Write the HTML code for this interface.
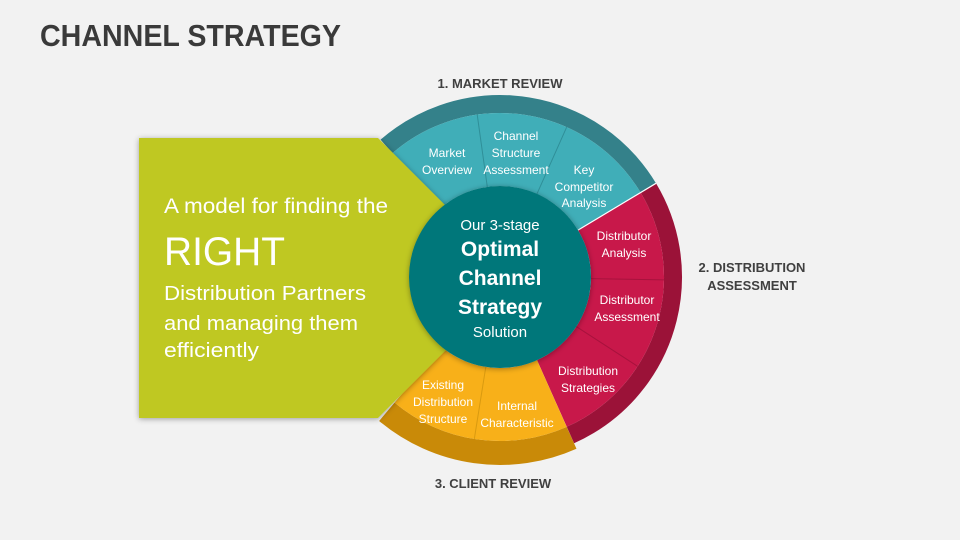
<!DOCTYPE html>
<html><head><meta charset="utf-8"><style>
html,body{margin:0;padding:0;background:#f2f2f2;}
svg{display:block;font-family:"Liberation Sans",sans-serif;}
</style></head><body>
<svg width="960" height="540" viewBox="0 0 960 540" xmlns="http://www.w3.org/2000/svg">
<defs>
<filter id="sh" x="-20%" y="-20%" width="140%" height="140%"><feDropShadow dx="0" dy="1" stdDeviation="3" flood-color="#000" flood-opacity="0.35"/></filter>
</defs>
<rect width="960" height="540" fill="#f2f2f2"/>
<text x="40" y="46" font-size="31" font-weight="bold" fill="#3a3a3a" textLength="301" lengthAdjust="spacingAndGlyphs">CHANNEL STRATEGY</text>

<g fill="none">
<circle cx="500" cy="277" r="176" stroke="#c98a08" stroke-width="24" pathLength="360" stroke-dasharray="64 296" transform="rotate(66 500 277)"/>
<circle cx="500" cy="277" r="173" stroke="#34818a" stroke-width="18" pathLength="360" stroke-dasharray="100 260" transform="rotate(-131 500 277)"/>
<circle cx="500" cy="277" r="173" stroke="#9b1238" stroke-width="18" pathLength="360" stroke-dasharray="97 263" transform="rotate(-31 500 277)"/>
<circle cx="500" cy="277" r="127.5" stroke="#40aeb8" stroke-width="73" pathLength="360" stroke-dasharray="100 260" transform="rotate(-131 500 277)"/>
<circle cx="500" cy="277" r="127.5" stroke="#c8184a" stroke-width="73" pathLength="360" stroke-dasharray="97 263" transform="rotate(-31 500 277)"/>
<circle cx="500" cy="277" r="127.5" stroke="#f8b019" stroke-width="73" pathLength="360" stroke-dasharray="64 296" transform="rotate(66 500 277)"/>
</g>
<g stroke-width="1">
<line x1="487.3" y1="186.9" x2="477.2" y2="114.6" stroke="#2f8f98"/>
<line x1="537" y1="193.8" x2="566.7" y2="127.1" stroke="#2f8f98"/>
<line x1="591" y1="278.6" x2="664" y2="279.9" stroke="#a8123d"/>
<line x1="576.3" y1="326.6" x2="637.6" y2="366.3" stroke="#a8123d"/>
<line x1="485.8" y1="366.9" x2="474.3" y2="439" stroke="#d99a10"/>
<line x1="578" y1="230.1" x2="656" y2="183.3" stroke="#ffffff" stroke-width="1.2"/>
</g>

<polygon points="139,138 378,138 518,278 378,418 139,418" fill="#bfc822" filter="url(#sh)"/>
<g fill="#ffffff">
<text x="164" y="213" font-size="21" textLength="224" lengthAdjust="spacingAndGlyphs">A model for finding the</text>
<text x="164" y="265" font-size="40" textLength="121" lengthAdjust="spacingAndGlyphs">RIGHT</text>
<text x="164" y="300" font-size="20" textLength="202" lengthAdjust="spacingAndGlyphs">Distribution Partners</text>
<text x="164" y="330" font-size="20" textLength="194" lengthAdjust="spacingAndGlyphs">and managing them</text>
<text x="164" y="357" font-size="20" textLength="95" lengthAdjust="spacingAndGlyphs">efficiently</text>
</g>

<circle cx="500" cy="277" r="91" fill="#00777a" filter="url(#sh)"/>
<g fill="#ffffff" text-anchor="middle">
<text x="500" y="230" font-size="15">Our 3-stage</text>
<text x="500" y="256" font-size="21" font-weight="bold">Optimal</text>
<text x="500" y="285" font-size="21" font-weight="bold">Channel</text>
<text x="500" y="314" font-size="21" font-weight="bold">Strategy</text>
<text x="500" y="337" font-size="15">Solution</text>
</g>

<g fill="#ffffff" text-anchor="middle" font-size="12">
<text x="447" y="157">Market</text><text x="447" y="174">Overview</text>
<text x="516" y="140">Channel</text><text x="516" y="157">Structure</text><text x="516" y="174">Assessment</text>
<text x="584" y="174">Key</text><text x="584" y="191">Competitor</text><text x="584" y="207">Analysis</text>
<text x="624" y="240">Distributor</text><text x="624" y="257">Analysis</text>
<text x="627" y="304">Distributor</text><text x="627" y="321">Assessment</text>
<text x="588" y="375">Distribution</text><text x="588" y="392">Strategies</text>
<text x="443" y="389">Existing</text><text x="443" y="406">Distribution</text><text x="443" y="423">Structure</text>
<text x="517" y="410">Internal</text><text x="517" y="427">Characteristic</text>
</g>

<g fill="#404040" font-weight="bold" font-size="13" text-anchor="middle">
<text x="500" y="88">1. MARKET REVIEW</text>
<text x="752" y="272">2. DISTRIBUTION</text>
<text x="752" y="290">ASSESSMENT</text>
<text x="493" y="488">3. CLIENT REVIEW</text>
</g>
</svg>
</body></html>
